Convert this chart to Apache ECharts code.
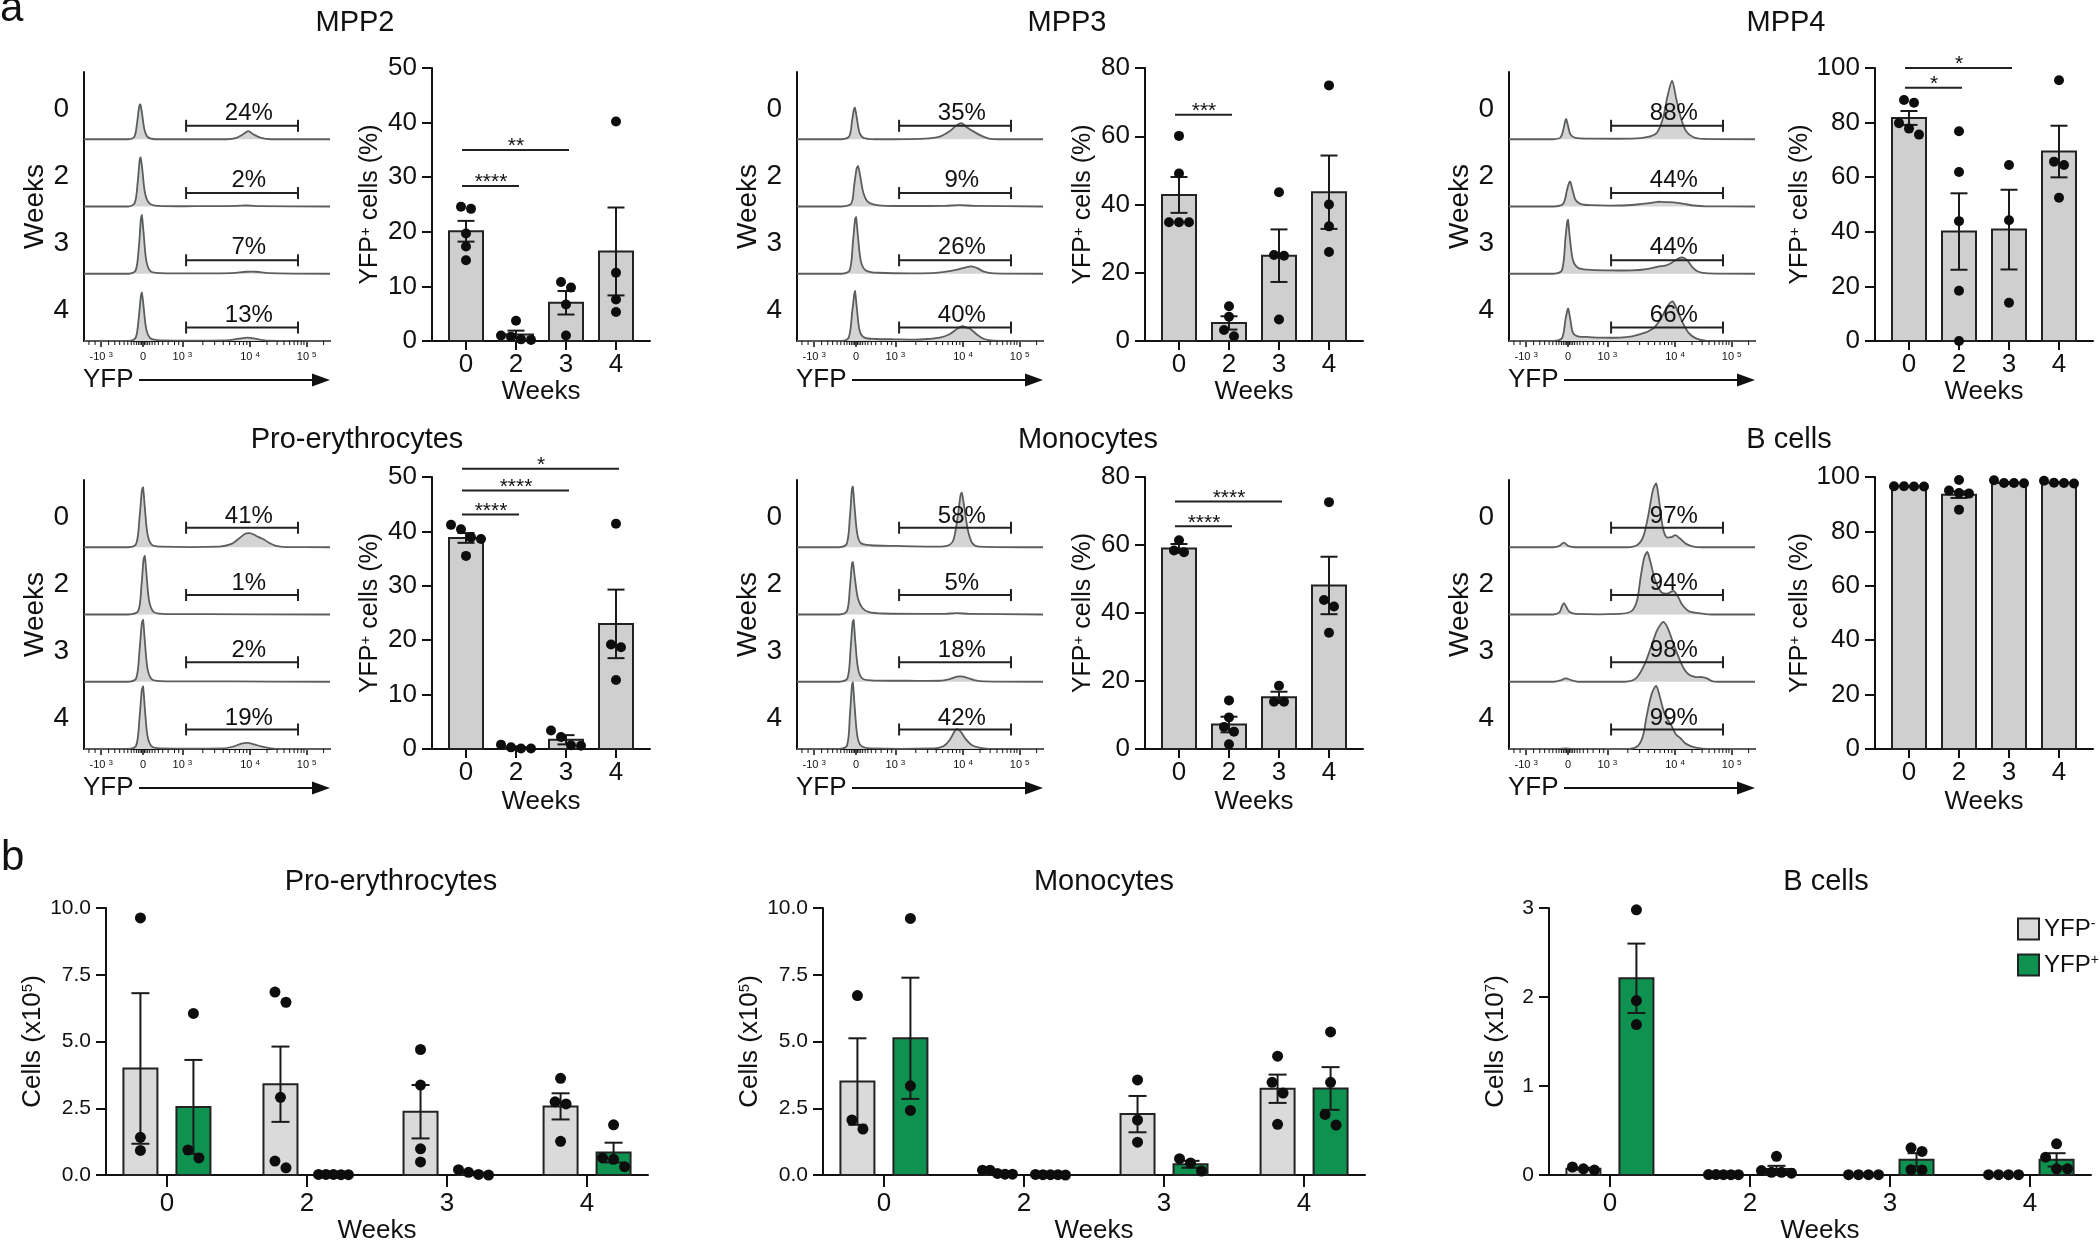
<!DOCTYPE html>
<html><head><meta charset="utf-8">
<script src="https://cdn.jsdelivr.net/npm/echarts@6/dist/echarts.min.js"></script>
<style>html,body{margin:0;padding:0;background:#fff}#c{width:2100px;height:1245px}</style>
</head><body><div id="c"></div>
<script>
// ================= DATA =================
const weeks = ['0', '2', '3', '4'];
const histTickText = [['-10', '3'], ['0', ''], ['10', '3'], ['10', '4'], ['10', '5']];

const mpp2Pct = [24, 2, 7, 13];
const mpp3Pct = [35, 9, 26, 40];
const mpp4Pct = [88, 44, 44, 66];
const proPct = [41, 1, 2, 19];
const monoPct = [58, 5, 18, 42];
const bPct = [97, 94, 98, 99];

const mpp2Hist = [
  [[0,0],[18,0],[20.5,0.04],[21.6,0.25],[22.4,0.48],[22.9,0.52],[23.6,0.38],[24.6,0.14],[26,0.03],[29,0],[58,0],[62,0.02],[64.5,0.07],[66.8,0.12],[69,0.07],[72,0.02],[76,0],[100,0]],
  [[0,0],[18,0],[20.6,0.05],[21.8,0.35],[22.6,0.68],[23,0.73],[23.7,0.55],[24.8,0.2],[26.5,0.05],[30,0.01],[50,0.005],[62,0.01],[66,0.015],[72,0.005],[100,0]],
  [[0,0],[18,0],[21,0.05],[22.3,0.4],[23.1,0.8],[23.5,0.87],[24.2,0.62],[25.3,0.2],[27,0.04],[31,0.01],[60,0.01],[66,0.03],[70,0.03],[75,0.01],[100,0]],
  [[0,0],[18,0],[21,0.05],[22.3,0.36],[23.1,0.66],[23.5,0.72],[24.2,0.52],[25.3,0.18],[27,0.04],[31,0.01],[58,0.01],[63,0.035],[66.5,0.05],[70,0.03],[75,0.005],[100,0]]
];
const mpp3Hist = [
  [[0,0],[18,0],[21.2,0.04],[22.4,0.28],[23.1,0.44],[23.5,0.47],[24.3,0.32],[25.4,0.1],[27,0.02],[32,0],[52,0.01],[58,0.04],[62,0.12],[65,0.21],[66.8,0.24],[69,0.18],[72,0.11],[75,0.05],[78,0.01],[82,0],[100,0]],
  [[0,0],[18,0],[22,0.04],[23.2,0.3],[24.2,0.56],[24.8,0.6],[25.7,0.45],[27,0.2],[28.5,0.08],[31,0.03],[36,0.01],[60,0.01],[66,0.02],[72,0.01],[100,0]],
  [[0,0],[18,0],[21.4,0.05],[22.8,0.5],[23.6,0.8],[24,0.84],[24.8,0.55],[26,0.18],[28,0.05],[33,0.015],[55,0.01],[62,0.04],[66,0.07],[69,0.1],[71,0.11],[73.5,0.08],[76,0.03],[80,0.005],[100,0]],
  [[0,0],[18,0],[21,0.05],[22.5,0.45],[23.3,0.7],[23.6,0.74],[24.3,0.5],[25.5,0.15],[27.5,0.05],[32,0.03],[40,0.025],[48,0.02],[53,0.03],[58,0.05],[62,0.1],[65,0.18],[67.2,0.22],[69,0.2],[70.5,0.18],[73,0.1],[76,0.03],[80,0.005],[100,0]]
];
const mpp4Hist = [
  [[0,0],[18,0],[21,0.03],[22.3,0.18],[23,0.29],[23.3,0.3],[24,0.2],[25,0.07],[27,0.02],[33,0.01],[50,0.01],[56,0.03],[60,0.09],[62.5,0.3],[64.5,0.65],[66.3,0.87],[68,0.6],[70,0.3],[72,0.12],[75,0.03],[79,0.005],[100,0]],
  [[0,0],[18,0],[22,0.04],[23.6,0.25],[24.5,0.36],[24.9,0.37],[25.8,0.25],[27,0.1],[29,0.04],[33,0.02],[45,0.015],[52,0.03],[57,0.05],[60.5,0.07],[63,0.065],[67,0.06],[71,0.04],[75,0.015],[80,0.003],[100,0]],
  [[0,0],[18,0],[21.5,0.05],[23,0.55],[23.7,0.78],[24,0.8],[24.7,0.55],[26,0.2],[28,0.09],[32,0.06],[40,0.05],[50,0.05],[56,0.07],[61,0.11],[63.5,0.12],[66,0.16],[69,0.23],[70.7,0.24],[72.5,0.2],[74.5,0.1],[77,0.03],[81,0.005],[100,0]],
  [[0,0],[18,0],[21.5,0.04],[23,0.33],[23.8,0.47],[24.1,0.48],[24.9,0.33],[26,0.12],[28,0.07],[32,0.06],[38,0.05],[45,0.05],[50,0.07],[55,0.12],[59,0.2],[62,0.35],[64.5,0.52],[66.5,0.59],[68.5,0.45],[70.5,0.28],[73,0.12],[76,0.04],[80,0.005],[100,0]]
];
const proHist = [
  [[0,0],[18,0],[21.2,0.05],[22.6,0.45],[23.5,0.83],[24,0.89],[24.7,0.6],[25.8,0.2],[27.5,0.04],[31,0.01],[55,0.01],[60,0.05],[63,0.13],[65.5,0.2],[67.3,0.21],[69,0.19],[71,0.15],[73,0.12],[75,0.07],[78,0.02],[82,0.002],[100,0]],
  [[0,0],[18,0],[22,0.05],[23.4,0.45],[24.2,0.82],[24.7,0.87],[25.4,0.6],[26.5,0.2],[28.3,0.04],[32,0.01],[50,0.005],[100,0]],
  [[0,0],[18,0],[21.2,0.05],[22.6,0.48],[23.5,0.87],[24,0.92],[24.7,0.62],[25.8,0.2],[27.5,0.04],[31,0.01],[60,0.005],[100,0]],
  [[0,0],[18,0],[21.2,0.05],[22.6,0.48],[23.5,0.88],[24,0.93],[24.7,0.62],[25.8,0.2],[27.5,0.04],[31,0.01],[57,0.01],[61,0.04],[64,0.08],[66.4,0.09],[69,0.07],[72,0.04],[76,0.01],[80,0],[100,0]]
];
const monoHist = [
  [[0,0],[17,0],[20.2,0.05],[21.5,0.45],[22.3,0.85],[22.7,0.9],[23.4,0.6],[24.5,0.2],[26,0.06],[30,0.03],[40,0.02],[55,0.01],[61,0.02],[63.5,0.1],[65.3,0.45],[66.5,0.78],[67,0.81],[68,0.6],[69.5,0.25],[71.3,0.06],[74,0.01],[100,0]],
  [[0,0],[17,0],[20.3,0.05],[21.5,0.4],[22.3,0.74],[22.7,0.78],[23.5,0.55],[24.7,0.25],[26.5,0.1],[29,0.04],[35,0.015],[60,0.01],[65,0.02],[70,0.01],[100,0]],
  [[0,0],[17,0],[20.5,0.05],[21.8,0.5],[22.6,0.88],[23,0.92],[23.7,0.6],[24.8,0.2],[26.5,0.05],[30,0.02],[45,0.015],[58,0.015],[62,0.04],[65,0.075],[66.8,0.08],[69,0.06],[72,0.025],[76,0.005],[100,0]],
  [[0,0],[17,0],[20.3,0.05],[21.5,0.5],[22.3,0.93],[22.7,0.99],[23.4,0.65],[24.5,0.2],[26,0.05],[30,0.01],[56,0.01],[59.5,0.04],[62,0.13],[64,0.26],[65,0.3],[66.5,0.26],[68.5,0.15],[71,0.06],[74,0.02],[78,0.003],[100,0]]
];
const bHist = [
  [[0,0],[18,0],[20.5,0.02],[22.3,0.07],[24,0.02],[27,0],[48,0],[52,0.03],[54.5,0.15],[56.5,0.45],[58.5,0.85],[59.8,0.95],[61,0.7],[62.5,0.3],[64,0.15],[66,0.15],[67.6,0.18],[69.5,0.13],[72,0.05],[75,0.01],[78,0],[100,0]],
  [[0,0],[18,0],[20.5,0.03],[21.6,0.13],[22.3,0.17],[23.2,0.12],[24.5,0.04],[27,0.01],[45,0.01],[49.8,0.05],[52,0.2],[53.5,0.55],[55,0.85],[56.2,0.93],[57.5,0.78],[59.5,0.5],[62,0.33],[64.3,0.31],[66,0.34],[67,0.35],[68.5,0.28],[70.5,0.14],[73,0.05],[77,0.02],[82,0],[100,0]],
  [[0,0],[18,0],[21,0.02],[23,0.05],[25.5,0.02],[28,0],[47,0],[51.6,0.05],[55,0.25],[57.6,0.5],[60,0.75],[62,0.87],[62.9,0.89],[64.5,0.8],[67,0.55],[69.7,0.3],[71.5,0.17],[73.4,0.1],[76,0.07],[78.5,0.07],[80.5,0.05],[82.5,0.01],[85,0],[100,0]],
  [[0,0],[20,0],[23,0.01],[26,0],[49,0],[52.5,0.05],[54.5,0.2],[56,0.5],[58,0.82],[59.8,0.94],[61.5,0.75],[63,0.55],[64.3,0.45],[66,0.35],[67.8,0.22],[69.7,0.16],[71.5,0.09],[73.4,0.05],[76,0.02],[80.6,0],[100,0]]
];

const mpp2Mean = [20.1, 1.2, 7.0, 16.4];
const mpp2Sem = [1.9, 0.7, 2.15, 8.05];
const mpp2Pts = [[24.2, 24.6, 19.7, 17.3, 14.8], [3.7, 0.3, 1.0, 0.2, 0.8], [9.8, 10.8, 6.7, 1.0], [40.2, 12.5, 7.6, 5.3]];
const mpp2Sig = [[0, 1, 28.4, 4], [0, 2, 35.0, 2]];

const mpp3Mean = [42.8, 5.3, 25.0, 43.6];
const mpp3Sem = [5.25, 1.95, 7.7, 10.75];
const mpp3Pts = [[60.1, 49.1, 34.8, 34.8, 34.8], [10.2, 7.1, 3.2, 1.4], [43.6, 25.0, 25.2, 6.3], [74.9, 40.0, 33.6, 26.1]];
const mpp3Sig = [[0, 1, 66.3, 3]];

const mpp4Mean = [81.7, 40.1, 40.8, 69.4];
const mpp4Sem = [2.55, 14.0, 14.6, 9.45];
const mpp4Pts = [[87.3, 88.3, 79.8, 75.6, 77.8], [76.8, 61.9, 43.9, 18.4, 0.0], [64.5, 44.2, 14.0], [95.5, 64.5, 65.7, 52.5]];
const mpp4Sig = [[0, 1, 92.8, 1], [0, 2, 100, 1]];

const proMean = [38.8, 0.33, 1.7, 23.0];
const proSem = [0.9, 0.15, 0.85, 6.3];
const proPts = [[40.4, 41.2, 38.6, 38.9, 35.5], [0.1, 0.8, 0.3, 0.1], [3.4, 2.2, 0.7, 0.6], [41.4, 18.7, 19.2, 12.7]];
const proSig = [[0, 1, 43.1, 4], [0, 2, 47.5, 4], [0, 3, 51.5, 1]];

const monoMean = [59.0, 7.2, 15.2, 48.1];
const monoSem = [1.3, 2.3, 1.65, 8.45];
const monoPts = [[61.4, 57.9, 58.4], [14.3, 9.3, 6.5, 5.1, 1.4], [18.6, 13.9, 13.9], [72.6, 41.9, 43.8, 34.2]];
const monoSig = [[0, 1, 65.5, 4], [0, 2, 72.8, 4]];

const bMean = [96.6, 93.5, 97.8, 97.9];
const bSem = [0.1, 1.2, 0.3, 0.2];
const bPts = [[96.5, 96.6, 96.6, 96.5], [98.9, 95.0, 93.9, 94.1, 88.0], [98.8, 97.8, 97.7, 97.8], [97.6, 98.6, 97.8, 97.9]];
const bSig = [];

const proNegMean = [3.99, 3.40, 2.37, 2.57];
const proNegSem = [2.82, 1.41, 1.00, 0.49];
const proNegPts = [[9.63, 1.41, 0.92], [6.85, 6.47, 2.91, 0.52, 0.27], [4.70, 3.37, 0.98, 0.49], [3.62, 2.74, 2.66, 1.26]];
const proPosMean = [2.55, 0.02, 0.08, 0.84];
const proPosSem = [1.76, 0.005, 0.04, 0.37];
const proPosPts = [[6.05, 0.64, 0.94], [0.02, 0.01, 0.02, 0.01, 0.02], [0.02, 0.2, 0.0, 0.1], [1.88, 0.31, 0.64, 0.59]];

const monoNegMean = [3.50, 0.10, 2.28, 3.23];
const monoNegSem = [1.62, 0.03, 0.68, 0.53];
const monoNegPts = [[6.72, 1.72, 2.06], [0.06, 0.18, 0.03, 0.18, 0.03], [3.56, 2.06, 1.23], [4.45, 3.47, 3.07, 1.90]];
const monoPosMean = [5.12, 0.01, 0.40, 3.24];
const monoPosSem = [2.27, 0.003, 0.13, 0.80];
const monoPosPts = [[9.61, 3.34, 2.42], [0.01, 0.02, 0.01, 0.0, 0.01], [0.61, 0.45, 0.15], [5.36, 3.47, 2.27, 1.87]];

const bNegMean = [0.07, 0.004, 0.003, 0.003];
const bNegSem = [0.01, 0.001, 0.001, 0.001];
const bNegPts = [[0.055, 0.09, 0.07], [0.005, 0.003, 0.004, 0.003, 0.005], [0.003, 0.003, 0.004, 0.003], [0.003, 0.004, 0.003, 0.003]];
const bPosMean = [2.21, 0.068, 0.17, 0.17];
const bPosSem = [0.39, 0.035, 0.075, 0.075];
const bPosPts = [[2.98, 1.96, 1.69], [0.21, 0.03, 0.05, 0.03, 0.02], [0.265, 0.305, 0.055, 0.06], [0.35, 0.2, 0.07, 0.07]];

// ================= STYLE / LAYOUT =================
const FF = '"Liberation Sans", Arial, Helvetica, sans-serif';
const INK = '#111111';
const GREEN = '#0f9150';
const LGRAY = '#d9dad9';
const BARGRAY = '#cfcfcf';
const HISTFILL = '#d4d4d4';
const HISTLINE = '#5a5e5e';

const histTickVals = [7, 24, 40, 67.5, 90.5];
const histMinor = [2, 4.5, 10, 12.5, 14.5, 16.3, 17.8, 19.2, 20.3, 21.3, 22.1, 22.8, 23.4, 24.6, 25.2, 25.9, 26.7, 27.7, 28.8, 30.2, 32, 34.2, 36.8, 38.5,
  48.3, 53.1, 56.6, 59.2, 61.4, 63.2, 64.8, 66.2, 74.4, 78.5, 81.3, 83.6, 85.4, 86.9, 88.3, 89.4, 97.4];
const GATE = [41.5, 87];
const GATE_LABEL_X = 67;

const HIST_TOP = [72, 480], HIST_H = 269, HIST_W = 246, HIST_LEFT = [84, 797, 1509];
const BAR_TOP = [68, 477], BAR_H = [273, 272], BAR_W = 218, BAR_LEFT = [432, 1145, 1875];
const B_TOP = 908, B_H = 272, B_W = 542, B_LEFT = [106, 823, 1549];

const option = {
  animation: false, backgroundColor: '#ffffff',
  textStyle: { fontFamily: FF, color: INK },
  grid: [], xAxis: [], yAxis: [], series: [], graphic: { elements: [] }
};
function addGrid(l, t, w, h) { option.grid.push({ left: l, top: t, width: w, height: h, containLabel: false }); return option.grid.length - 1; }
function addX(c) { option.xAxis.push(c); return option.xAxis.length - 1; }
function addY(c) { option.yAxis.push(c); return option.yAxis.length - 1; }
function ts(size, extra) {
  return Object.assign({ fill: INK, fontSize: size, fontFamily: FF, align: 'center', verticalAlign: 'middle' }, extra || {});
}
function G(el) { option.graphic.elements.push(el); }

// place dots that overlap vertically side by side (GraphPad-like scatter)
function swarm(ys, d, span, thr) {
  const idx = ys.map((y, i) => i).sort((a, b) => ys[a] - ys[b]);
  const off = ys.map(() => 0);
  if (!idx.length) return off;
  let cl = [idx[0]];
  const flush = () => {
    const n = cl.length, s = n > 1 ? Math.min(d, span / (n - 1)) : 0;
    cl.forEach((k, j) => { off[k] = (j - (n - 1) / 2) * s; });
  };
  for (let t = 1; t < idx.length; t++) {
    if (ys[idx[t]] - ys[idx[t - 1]] < d * thr) cl.push(idx[t]); else { flush(); cl = [idx[t]]; }
  }
  flush();
  return off;
}
function bbox(c) {
  let x0 = Infinity, y0 = Infinity, x1 = -Infinity, y1 = -Infinity;
  c.forEach(p => { x0 = Math.min(x0, p[0]); y0 = Math.min(y0, p[1]); x1 = Math.max(x1, p[0]); y1 = Math.max(y1, p[1]); });
  return [[x0, y0], [x1, y1]];
}

// ---------- histogram panel ----------
function curveSeries(xi, yi, pts, base) {
  return {
    type: 'custom', xAxisIndex: xi, yAxisIndex: yi, silent: true, z: 2,
    data: pts.map(p => [p[0], base + p[1]]),
    renderItem: function (params, api) {
      if (params.dataIndex !== 0) return null;
      const c = pts.map(p => api.coord([p[0], base + p[1]]));
      const bb = bbox(c);
      return {
        type: 'group', children: [
          { type: 'polygon', shape: { points: c, smooth: 0.3, smoothConstraint: bb }, style: { fill: HISTFILL } },
          { type: 'polyline', shape: { points: c, smooth: 0.3, smoothConstraint: bb }, style: { stroke: HISTLINE, lineWidth: 1.8, fill: null } }
        ]
      };
    }
  };
}
function minorTickSeries(xi, yi) {
  return {
    type: 'custom', xAxisIndex: xi, yAxisIndex: yi, silent: true, z: 3,
    data: histMinor.map(v => [v, 0]),
    renderItem: function (params, api) {
      const c = api.coord([api.value(0), 0]);
      return { type: 'line', shape: { x1: c[0], y1: c[1], x2: c[0], y2: c[1] + 4 }, style: { stroke: INK, lineWidth: 1 } };
    }
  };
}
function gateSeries(xi, yi, pct, g, lab) {
  return {
    type: 'custom', xAxisIndex: xi, yAxisIndex: yi, silent: true, z: 6,
    data: pct.map((v, i) => [i, v]),
    renderItem: function (params, api) {
      const i = api.value(0), base = 3 - i;
      const p0 = api.coord([GATE[0], base + g]), p1 = api.coord([GATE[1], base + g]);
      const pt = api.coord([GATE_LABEL_X, base + lab]);
      const st = { stroke: '#222', lineWidth: 2 };
      return {
        type: 'group', children: [
          { type: 'line', shape: { x1: p0[0], y1: p0[1], x2: p1[0], y2: p1[1] }, style: st },
          { type: 'line', shape: { x1: p0[0], y1: p0[1] - 6, x2: p0[0], y2: p0[1] + 6 }, style: st },
          { type: 'line', shape: { x1: p1[0], y1: p1[1] - 6, x2: p1[0], y2: p1[1] + 6 }, style: st },
          { type: 'text', x: pt[0], y: pt[1], style: ts(24, { text: api.value(1) + '%' }) }
        ]
      };
    }
  };
}
function histTickFmt(v) {
  let k = 0, best = 1e9;
  histTickVals.forEach((t, i) => { if (Math.abs(t - v) < best) { best = Math.abs(t - v); k = i; } });
  const p = histTickText[k];
  return p[1] ? '{n|' + p[0] + '}{s|' + p[1] + '}' : '{n|' + p[0] + '}';
}
function histPanel(left, top, curves, pct, g, lab) {
  const gi = addGrid(left, top, HIST_W, HIST_H);
  const xi = addX({
    gridIndex: gi, type: 'value', min: 0, max: 100, position: 'bottom',
    axisLine: { show: true, onZero: false, lineStyle: { color: INK, width: 2 } },
    axisTick: { show: true, customValues: histTickVals, length: 6, lineStyle: { color: INK, width: 1.5 } },
    axisLabel: {
      show: true, customValues: histTickVals, formatter: histTickFmt, margin: 10,
      rich: { n: { fontSize: 11, color: INK, fontFamily: FF }, s: { fontSize: 8, color: INK, fontFamily: FF, verticalAlign: 'top', padding: [0, 0, 0, 3] } }
    },
    splitLine: { show: false }
  });
  const yi = addY({
    gridIndex: gi, type: 'value', min: 0, max: 4, position: 'left',
    axisLine: { show: true, onZero: false, lineStyle: { color: INK, width: 2 } },
    axisTick: { show: false },
    axisLabel: { show: true, customValues: [0.45, 1.45, 2.45, 3.45], formatter: v => weeks[3 - Math.floor(v + 1e-9)], fontSize: 28, color: INK, margin: 15, fontFamily: FF },
    splitLine: { show: false },
    name: 'Weeks', nameLocation: 'middle', nameGap: 30, nameRotate: 90,
    nameTextStyle: { fontSize: 28, color: INK, fontFamily: FF }
  });
  curves.forEach((c, r) => option.series.push(curveSeries(xi, yi, c, 3 - r)));
  option.series.push(minorTickSeries(xi, yi));
  option.series.push(gateSeries(xi, yi, pct, g, lab));
  const yy = top + HIST_H + 39;
  G({ type: 'text', x: left - 1, y: yy, style: ts(26, { text: 'YFP', align: 'left' }) });
  G({ type: 'line', shape: { x1: left + 55, y1: yy, x2: left + HIST_W - 14, y2: yy }, style: { stroke: INK, lineWidth: 2 } });
  G({ type: 'polygon', shape: { points: [[left + HIST_W, yy], [left + HIST_W - 18, yy - 6.5], [left + HIST_W - 18, yy + 6.5]] }, style: { fill: INK } });
}

// ---------- bar chart helpers ----------
function barSeries(xi, yi, mean, off, bw, fill, name) {
  const s = {
    type: 'custom', xAxisIndex: xi, yAxisIndex: yi, silent: true, z: 3,
    itemStyle: { color: fill, borderColor: '#222', borderWidth: 2 },
    data: mean.map((m, i) => [i, m]),
    renderItem: function (params, api) {
      const c0 = api.coord([api.value(0), 0]), c1 = api.coord([api.value(0), api.value(1)]);
      return { type: 'rect', shape: { x: c0[0] + off - bw / 2, y: c1[1], width: bw, height: c0[1] - c1[1] }, style: { fill: fill, stroke: '#222', lineWidth: 2 } };
    }
  };
  if (name) s.name = name;
  return s;
}
function errSeries(xi, yi, mean, sem, off, cap) {
  return {
    type: 'custom', xAxisIndex: xi, yAxisIndex: yi, silent: true, z: 4,
    data: mean.map((m, i) => [i, m, sem[i]]),
    renderItem: function (params, api) {
      const i = api.value(0), m = api.value(1), s = api.value(2);
      const hi = api.coord([i, m + s]), lo = api.coord([i, Math.max(0, m - s)]);
      const x = hi[0] + off, st = { stroke: '#1a1a1a', lineWidth: 2 };
      return {
        type: 'group', children: [
          { type: 'line', shape: { x1: x, y1: hi[1], x2: x, y2: lo[1] }, style: st },
          { type: 'line', shape: { x1: x - cap / 2, y1: hi[1], x2: x + cap / 2, y2: hi[1] }, style: st },
          { type: 'line', shape: { x1: x - cap / 2, y1: lo[1], x2: x + cap / 2, y2: lo[1] }, style: st }
        ]
      };
    }
  };
}
function dotSeries(xi, yi, pts, off, r, span, thr) {
  const data = [];
  pts.forEach((g, gi) => g.forEach((v, j) => data.push([gi, v, j])));
  return {
    type: 'custom', xAxisIndex: xi, yAxisIndex: yi, silent: true, z: 5, data: data,
    renderItem: function (params, api) {
      const g = api.value(0), j = api.value(2);
      const ys = pts[g].map(v => api.coord([g, v])[1]);
      const offs = swarm(ys, 2 * r, span, thr);
      const c = api.coord([g, api.value(1)]);
      return { type: 'circle', shape: { cx: c[0] + off + (offs[j] || 0), cy: c[1], r: r }, style: { fill: '#0d0d0d' } };
    }
  };
}
function sigSeries(xi, yi, sig) {
  return {
    type: 'custom', xAxisIndex: xi, yAxisIndex: yi, silent: true, z: 6, data: sig,
    renderItem: function (params, api) {
      const a = api.coord([api.value(0), api.value(2)]), b = api.coord([api.value(1), api.value(2)]);
      const n = api.value(3);
      return {
        type: 'group', children: [
          { type: 'line', shape: { x1: a[0] - 4, y1: a[1], x2: b[0] + 3, y2: b[1] }, style: { stroke: '#222', lineWidth: 2 } },
          { type: 'text', x: (a[0] + b[0]) / 2, y: a[1] - 3.5, style: ts(21, { text: '*'.repeat(n) }) }
        ]
      };
    }
  };
}
function weekXAxis(gi, min, max, tickLen, margin, size, nameGap) {
  return {
    gridIndex: gi, type: 'value', min: min, max: max, position: 'bottom',
    axisLine: { show: true, onZero: false, lineStyle: { color: INK, width: 2 } },
    axisTick: { show: true, customValues: [0, 1, 2, 3], length: tickLen, lineStyle: { color: INK, width: 2 } },
    axisLabel: { show: true, customValues: [0, 1, 2, 3], formatter: v => weeks[Math.round(v)], fontSize: size, color: INK, margin: margin, fontFamily: FF },
    splitLine: { show: false },
    name: 'Weeks', nameLocation: 'middle', nameGap: nameGap, nameTextStyle: { fontSize: size, color: INK, fontFamily: FF }
  };
}
function valYAxis(gi, max, interval, fmt, size, margin, name, nameGap, nameSize, sup) {
  return {
    gridIndex: gi, type: 'value', min: 0, max: max, interval: interval, position: 'left',
    axisLine: { show: true, onZero: false, lineStyle: { color: INK, width: 2 } },
    axisTick: { show: true, length: 10, lineStyle: { color: INK, width: 2 } },
    axisLabel: { formatter: fmt, fontSize: size, color: INK, margin: margin, fontFamily: FF },
    splitLine: { show: false },
    name: name, nameLocation: 'middle', nameGap: nameGap, nameRotate: 90,
    nameTextStyle: {
      fontSize: nameSize, color: INK, fontFamily: FF,
      rich: { a: { fontSize: nameSize, color: INK, fontFamily: FF }, s: { fontSize: sup, color: INK, fontFamily: FF, verticalAlign: 'top' } }
    }
  };
}
const YFP_NAME = '{a|YFP}{s|+}{a| cells (%)}';

function barPanelA(row, col, ymax, yint, mean, sem, pts, sig) {
  const gi = addGrid(BAR_LEFT[col], BAR_TOP[row], BAR_W, BAR_H[row]);
  const xi = addX(weekXAxis(gi, -0.68, 3.68, 9, 11, 26, row === 0 ? 34 : 40));
  const yi = addY(valYAxis(gi, ymax, yint, v => String(v), 26, 15, YFP_NAME, 49, 25, 15));
  option.series.push(barSeries(xi, yi, mean, 0, 34, BARGRAY));
  option.series.push(errSeries(xi, yi, mean, sem, 0, 17));
  option.series.push(dotSeries(xi, yi, pts, 0, 5, 31, 0.9));
  if (sig.length) option.series.push(sigSeries(xi, yi, sig));
}
function barPanelB(col, ymax, yint, fmt, exp, nameGap, neg, negSem, negPts, pos, posSem, posPts) {
  const gi = addGrid(B_LEFT[col], B_TOP, B_W, B_H);
  const xi = addX(weekXAxis(gi, -0.435, 3.435, 12, 16, 26, 43));
  const yi = addY(valYAxis(gi, ymax, yint, fmt, 21, 15, '{a|Cells (x10}{s|' + exp + '}{a|)}', nameGap, 26, 15));
  option.series.push(barSeries(xi, yi, neg, -26.5, 34, LGRAY, 'YFP-'));
  option.series.push(barSeries(xi, yi, pos, 26.5, 34, GREEN, 'YFP+'));
  option.series.push(errSeries(xi, yi, neg, negSem, -26.5, 18));
  option.series.push(errSeries(xi, yi, pos, posSem, 26.5, 18));
  option.series.push(dotSeries(xi, yi, negPts, -26.5, 5.5, 30, 1.15));
  option.series.push(dotSeries(xi, yi, posPts, 26.5, 5.5, 30, 1.15));
}

// ================= BUILD =================
const G1 = 0.2, L1 = 0.385, G2 = 0.29, L2 = 0.46;
histPanel(HIST_LEFT[0], HIST_TOP[0], mpp2Hist, mpp2Pct, G1, L1);
barPanelA(0, 0, 50, 10, mpp2Mean, mpp2Sem, mpp2Pts, mpp2Sig);
histPanel(HIST_LEFT[1], HIST_TOP[0], mpp3Hist, mpp3Pct, G1, L1);
barPanelA(0, 1, 80, 20, mpp3Mean, mpp3Sem, mpp3Pts, mpp3Sig);
histPanel(HIST_LEFT[2], HIST_TOP[0], mpp4Hist, mpp4Pct, G1, L1);
barPanelA(0, 2, 100, 20, mpp4Mean, mpp4Sem, mpp4Pts, mpp4Sig);
histPanel(HIST_LEFT[0], HIST_TOP[1], proHist, proPct, G2, L2);
barPanelA(1, 0, 50, 10, proMean, proSem, proPts, proSig);
histPanel(HIST_LEFT[1], HIST_TOP[1], monoHist, monoPct, G2, L2);
barPanelA(1, 1, 80, 20, monoMean, monoSem, monoPts, monoSig);
histPanel(HIST_LEFT[2], HIST_TOP[1], bHist, bPct, G2, L2);
barPanelA(1, 2, 100, 20, bMean, bSem, bPts, bSig);

const f1 = v => v.toFixed(1);
barPanelB(0, 10, 2.5, f1, '5', 53, proNegMean, proNegSem, proNegPts, proPosMean, proPosSem, proPosPts);
barPanelB(1, 10, 2.5, f1, '5', 53, monoNegMean, monoNegSem, monoNegPts, monoPosMean, monoPosSem, monoPosPts);
barPanelB(2, 3, 1, v => String(v), '7', 40, bNegMean, bNegSem, bNegPts, bPosMean, bPosSem, bPosPts);

G({ type: 'text', x: 0, y: 9, style: ts(42, { text: 'a', align: 'left' }) });
G({ type: 'text', x: 1, y: 858, style: ts(42, { text: 'b', align: 'left' }) });
[['MPP2', 355, 23], ['MPP3', 1067, 23], ['MPP4', 1786, 23],
 ['Pro-erythrocytes', 357, 440], ['Monocytes', 1088, 440], ['B cells', 1789, 440],
 ['Pro-erythrocytes', 391, 882], ['Monocytes', 1104, 882], ['B cells', 1826, 882]
].forEach(t => G({ type: 'text', x: t[1], y: t[2], style: ts(29, { text: t[0] }) }));

option.legend = {
  left: 2012, top: 912, orient: 'vertical', itemWidth: 21, itemHeight: 21, itemGap: 12, icon: 'rect', selectedMode: false,
  data: [
    { name: 'YFP-', itemStyle: { color: LGRAY, borderColor: '#222', borderWidth: 2 } },
    { name: 'YFP+', itemStyle: { color: GREEN, borderColor: '#222', borderWidth: 2 } }
  ],
  formatter: n => n === 'YFP-' ? '{a|YFP}{s|-}' : '{a|YFP}{s|+}',
  textStyle: { fontSize: 24, color: INK, fontFamily: FF, rich: { a: { fontSize: 24, color: INK, fontFamily: FF }, s: { fontSize: 14, color: INK, fontFamily: FF, verticalAlign: 'top' } } }
};

const chart = echarts.init(document.getElementById('c'), null, { renderer: 'canvas', width: 2100, height: 1245 });
chart.setOption(option);
</script></body></html>
